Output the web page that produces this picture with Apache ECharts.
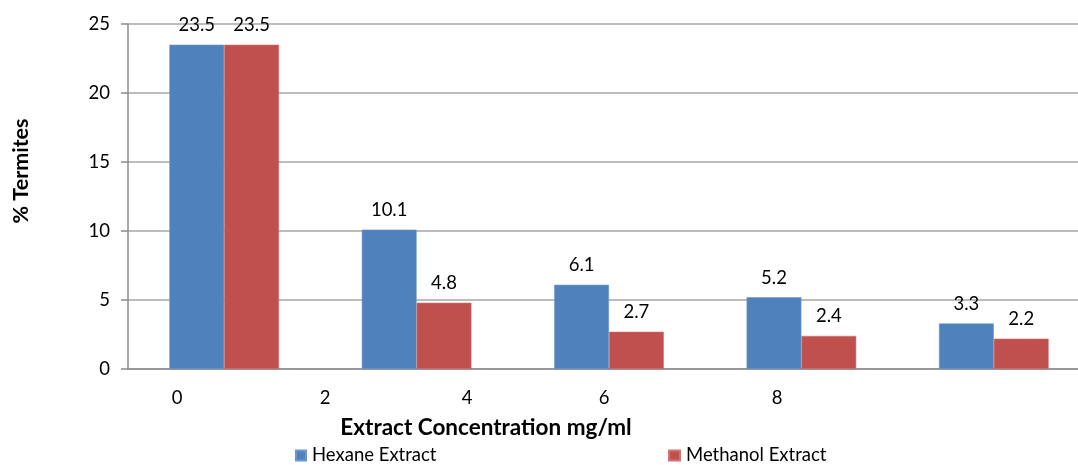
<!DOCTYPE html>
<html>
<head>
<meta charset="utf-8">
<script src="https://cdn.jsdelivr.net/npm/echarts@6/dist/echarts.min.js"></script>
<style>
  html, body { margin: 0; padding: 0; background: #fff; }
  #chart { width: 1078px; height: 465px; }
</style>
</head>
<body>
<div id="chart"></div>
<script>
// Five concentration groups, two extracts each
const categories = ['c1', 'c2', 'c3', 'c4', 'c5'];
const hexane = [23.5, 10.1, 6.1, 5.2, 3.3];
const methanol = [23.5, 4.8, 2.7, 2.4, 2.2];
const seriesNames = ['Hexane Extract', 'Methanol Extract'];

// Concentration labels shown under the axis
const concLabels = ['0', '2', '4', '6', '8'];
const concLabelX = [177, 325, 467, 604, 777];

const FONT = 'Lato, "Open Sans", sans-serif';
const TXT = 18.5;
const BLUE = '#4F81BD';
const RED = '#C0504D';

const chart = echarts.init(document.getElementById('chart'), null, { renderer: 'canvas' });

const barLabel = {
  show: true,
  position: 'top',
  distance: 10,
  color: '#000',
  fontFamily: FONT,
  fontSize: TXT
};

chart.setOption({
  animation: false,
  backgroundColor: '#fff',
  // plot area runs a little past the right edge of the canvas
  grid: {
    left: 128, top: 24, height: 345, width: 962,
    containLabel: false,
    outerBoundsMode: 'none'
  },
  legend: [
    {
      data: [seriesNames[0]], left: 295, top: 446, padding: 0,
      itemWidth: 10, itemHeight: 10, itemGap: 0,
      icon: 'rect',
      textStyle: { fontFamily: FONT, fontSize: TXT, color: '#000', padding: [0, 0, 0, 1] }
    },
    {
      data: [seriesNames[1]], left: 668, top: 446, padding: 0,
      itemWidth: 11, itemHeight: 10, itemGap: 0,
      icon: 'rect',
      textStyle: { fontFamily: FONT, fontSize: TXT, color: '#000', padding: [0, 0, 0, 1] }
    }
  ],
  xAxis: {
    type: 'category',
    data: categories,
    axisLine: { show: true, lineStyle: { color: '#8c8c8c', width: 1.5 } },
    axisTick: { show: false },
    axisLabel: { show: false },
    splitLine: { show: false }
  },
  yAxis: {
    type: 'value',
    min: 0,
    max: 25,
    interval: 5,
    axisLine: { show: true, lineStyle: { color: '#8c8c8c', width: 1.5 } },
    axisTick: { show: true, inside: false, length: 7, lineStyle: { color: '#8c8c8c', width: 1.5 } },
    axisLabel: { fontFamily: FONT, fontSize: TXT, color: '#000', margin: 18 },
    splitLine: { show: true, lineStyle: { color: '#a6a6a6', width: 1.5 } }
  },
  series: [
    {
      name: seriesNames[0],
      type: 'bar',
      data: hexane,
      barGap: '0%',
      barCategoryGap: '43%',
      itemStyle: { color: BLUE, borderColor: '#6d98cc', borderWidth: 0.6 },
      label: barLabel
    },
    {
      name: seriesNames[1],
      type: 'bar',
      data: methanol,
      itemStyle: { color: RED, borderColor: '#d07471', borderWidth: 0.6 },
      label: barLabel
    }
  ],
  graphic: [
    ...concLabels.map((t, i) => ({
      type: 'text',
      x: concLabelX[i],
      y: 398,
      style: {
        text: t,
        fontFamily: FONT,
        fontSize: TXT,
        fill: '#000',
        align: 'center',
        verticalAlign: 'middle'
      }
    })),
    {
      type: 'text',
      x: 486,
      y: 428,
      style: {
        text: 'Extract Concentration mg/ml',
        fontFamily: FONT,
        fontSize: 22.5,
        fontWeight: 'bold',
        fill: '#000',
        align: 'center',
        verticalAlign: 'middle'
      }
    },
    {
      type: 'text',
      x: 21,
      y: 171,
      rotation: Math.PI / 2,
      style: {
        text: '% Termites',
        fontFamily: FONT,
        fontSize: 21.5,
        fontWeight: 'bold',
        fill: '#000',
        align: 'center',
        verticalAlign: 'middle'
      }
    }
  ]
});
</script>
</body>
</html>
